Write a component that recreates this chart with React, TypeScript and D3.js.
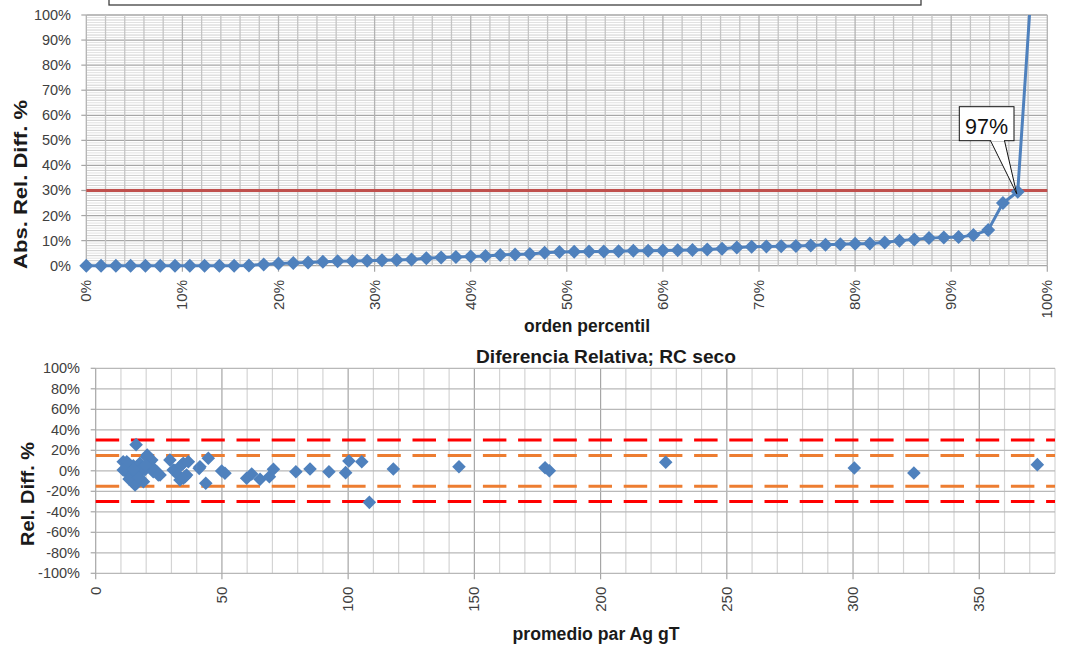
import React from "react";
import * as d3 from "d3";

// ---------- Top chart data (sorted absolute relative differences, %) ----------
const percentileValues: number[] = [
  0, 0, 0, 0, 0, 0, 0, 0, 0, 0, 0, 0.1,
  0.5, 0.9, 1.1, 1.3, 1.6, 1.8, 1.9, 2.0, 2.2, 2.3, 2.5, 3.0,
  3.3, 3.5, 3.7, 3.9, 4.3, 4.5, 4.7, 5.2, 5.5, 5.6, 5.7, 5.7,
  5.8, 6.0, 6.0, 6.1, 6.2, 6.3, 6.5, 6.8, 7.3, 7.6, 7.7, 7.8,
  7.9, 8.1, 8.4, 8.6, 8.8, 8.9, 9.3, 10.0, 10.5, 11.0, 11.2, 11.4,
  12.2, 14.2, 25.0, 29.5, 118,
];
const percentileCount = 65;
const topYTicks = [0, 10, 20, 30, 40, 50, 60, 70, 80, 90, 100];
const topXTicks = [0, 10, 20, 30, 40, 50, 60, 70, 80, 90, 100];
const limitTop = 30;
const annotationIndex = 63;
const annotationText = "97%";

// ---------- Bottom chart data (relative difference vs pair average) ----------
const scatterX: number[] = [
  10.9, 11.6, 12.3, 13.0, 13.6, 14.3, 14.9, 15.6, 16.0, 16.2, 16.2, 16.9,
  17.5, 18.9, 19.5, 20.4, 21.5, 22.2, 22.8, 24.2, 25.5, 29.4, 30.7, 31.4,
  33.4, 34.0, 34.7, 35.4, 36.0, 36.7, 41.0, 43.6, 44.6, 49.9, 51.2, 59.8,
  61.8, 65.1, 68.8, 70.4, 79.3, 84.9, 92.4, 99.0, 100.3, 105.4, 108.4, 117.9,
  143.9, 178.0, 179.7, 225.8, 300.5, 324.1, 373.0,
  20.2, 12.3, 10.9, 14.3, 15.6, 18.2, 22.8, 24.8, 32.7, 34.7, 41.3,
  13.2, 17.0, 19.8, 15.0,
];
const scatterY: number[] = [
  8.9, 0, 2.4, 7.0, -3.5, -5.7, 5.0, -13.8, 25.5, 4.0, -12.2, -2.5,
  7.3, -10.6, 1.0, 15.4, 8.9, 10.5, 2.4, -0.9, -4.1, 10.5, 0.8, 0.5,
  -9.0, 5.7, 7.3, -5.8, -4.1, 8.9, 2.4, -12.2, 12.2, -0.2, -2.4, -7.3,
  -3.1, -8.3, -5.8, 1.5, -0.9, 1.8, -0.9, -1.8, 9.6, 8.9, -30.8, 1.8,
  4.0, 3.0, 0.1, 8.3, 2.7, -2.1, 6.0,
  13.8, 8.9, 0.8, -4.0, -12.2, 2.4, -0.9, -4.1, -4.1, -7.3, 4.0,
  -8.0, -6.5, 5.5, 1.5,
];
const bottomYTicks = [-100, -80, -60, -40, -20, 0, 20, 40, 60, 80, 100];
const bottomXTicks = [0, 50, 100, 150, 200, 250, 300, 350];
const outerLimits = [30, -30];
const innerLimits = [15, -15];

const W = 1065;
const H = 648;
const BLUE = "#4F81BD";
const TICK_COLOR = "#404040";
const FONT = "'Liberation Sans', Arial, sans-serif";

function diamond(cx: number, cy: number, r: number) {
  return `M${cx},${cy - r}L${cx + r},${cy}L${cx},${cy + r}L${cx - r},${cy}Z`;
}

export default function App() {
  // Top chart scales
  const tx = d3.scaleLinear().domain([0, 100]).range([86.3, 1047.3]);
  const ty = d3.scaleLinear().domain([0, 100]).range([265.7, 15]);
  const topPts = percentileValues.map((v, i) => ({ x: (i / percentileCount) * 100, y: v }));
  const topLine = d3
    .line<{ x: number; y: number }>()
    .x((d) => tx(d.x))
    .y((d) => ty(d.y));

  // Bottom chart scales
  const bx = d3.scaleLinear().domain([0, 380]).range([95.7, 1055.0]);
  const by = d3.scaleLinear().domain([-100, 100]).range([573.3, 368.3]);

  const topMinorH = d3.range(0, 101, 1);
  const topV = d3.range(0, 101, 2);
  const botV = d3.range(0, 381, 10);
  const botH = d3.range(-100, 101, 20);

  const ann = topPts[annotationIndex];
  const annX = tx(ann.x);
  const annY = ty(ann.y);

  return (
    <svg
      width={W}
      height={H}
      style={{ position: "absolute", left: 0, top: 0, background: "#fff" }}
      fontFamily={FONT}
    >
      <rect x={0} y={0} width={W} height={H} fill="#fff" />
      <defs>
        <clipPath id="topClip">
          <rect x={tx(0) - 12} y={ty(100)} width={tx(100) - tx(0) + 24} height={ty(0) - ty(100) + 12} />
        </clipPath>
      </defs>

      {/* ---------- TOP CHART ---------- */}
      {topMinorH.map((v) => (
        <line
          key={"tmh" + v}
          x1={tx(0)}
          x2={tx(100)}
          y1={ty(v)}
          y2={ty(v)}
          stroke={v % 10 === 0 ? "#a6a6a6" : v % 2 === 0 ? "#cfcfcf" : "#e2e2e2"}
          strokeWidth={v % 10 === 0 ? 1.3 : 1}
        />
      ))}
      {topV.map((v) => (
        <line
          key={"tv" + v}
          x1={tx(v)}
          x2={tx(v)}
          y1={ty(0)}
          y2={ty(100)}
          stroke={v % 10 === 0 ? "#b3b3b3" : "#c4c4c4"}
          strokeWidth={1.3}
        />
      ))}
      {topXTicks.map((v) => (
        <line key={"txt" + v} x1={tx(v)} x2={tx(v)} y1={ty(0)} y2={ty(0) + 6} stroke="#a6a6a6" strokeWidth={1.2} />
      ))}
      {topYTicks.map((v) => (
        <line key={"tyt" + v} x1={tx(0) - 5} x2={tx(0)} y1={ty(v)} y2={ty(v)} stroke="#a6a6a6" strokeWidth={1.2} />
      ))}

      <line x1={tx(0)} x2={tx(100)} y1={ty(limitTop)} y2={ty(limitTop)} stroke="#C0504D" strokeWidth={3} />

      <g clipPath="url(#topClip)">
        <path d={topLine(topPts) || ""} fill="none" stroke={BLUE} strokeWidth={3} />
        {topPts.map((p, i) => (
          <path key={"tm" + i} d={diamond(tx(p.x), ty(p.y), 7)} fill={BLUE} />
        ))}
      </g>

      {topYTicks.map((v) => (
        <text key={"tyl" + v} x={71} y={ty(v) + 5} textAnchor="end" fontSize={14.5} fill={TICK_COLOR}>
          {v}%
        </text>
      ))}
      {topXTicks.map((v) => (
        <text
          key={"txl" + v}
          transform={`translate(${tx(v) + 5},280) rotate(-90)`}
          textAnchor="end"
          fontSize={15}
          fill={TICK_COLOR}
        >
          {v}%
        </text>
      ))}
      <text
        transform={`translate(27,184.5) rotate(-90)`}
        textAnchor="middle"
        fontSize={19}
        fontWeight="bold"
        fill="#1a1a1a"
        textLength={169}
        lengthAdjust="spacingAndGlyphs"
      >
        Abs. Rel. Diff. %
      </text>
      <text x={587} y={332} textAnchor="middle" fontSize={19} fontWeight="bold" fill="#1a1a1a" textLength={126} lengthAdjust="spacingAndGlyphs">
        orden percentil
      </text>

      {/* annotation callout */}
      <polygon points={`990.5,140.7 ${annX - 1},${annY + 2} 1004.5,140.7`} fill="#fff" stroke="#111" strokeWidth={1} />
      <rect x={959.3} y={106.7} width={54.7} height={34} fill="#fff" stroke="#111" strokeWidth={1} />
      <line x1={991.2} x2={1004} y1={140.7} y2={140.7} stroke="#fff" strokeWidth={1.5} />
      <text x={986.6} y={133.5} textAnchor="middle" fontSize={22} fill="#111" textLength={43} lengthAdjust="spacingAndGlyphs">
        {annotationText}
      </text>

      <rect x={109} y={-10} width={812} height={15} fill="#fff" stroke="#404040" strokeWidth={1.3} />

      {/* ---------- BOTTOM CHART ---------- */}
      {botV.map((v) => (
        <line
          key={"bv" + v}
          x1={bx(v)}
          x2={bx(v)}
          y1={by(-100)}
          y2={by(100)}
          stroke={v % 50 === 0 ? "#a6a6a6" : "#d4d4d4"}
          strokeWidth={1.2}
        />
      ))}
      {botH.map((v) => (
        <line key={"bh" + v} x1={bx(0)} x2={bx(380)} y1={by(v)} y2={by(v)} stroke="#b8b8b8" strokeWidth={1.2} />
      ))}
      {bottomXTicks.map((v) => (
        <line key={"bxt" + v} x1={bx(v)} x2={bx(v)} y1={by(-100)} y2={by(-100) + 6} stroke="#a6a6a6" strokeWidth={1.2} />
      ))}
      {bottomYTicks.map((v) => (
        <line key={"byt" + v} x1={bx(0) - 5} x2={bx(0)} y1={by(v)} y2={by(v)} stroke="#a6a6a6" strokeWidth={1.2} />
      ))}

      {outerLimits.map((v) => (
        <line
          key={"ol" + v}
          x1={bx(0)}
          x2={bx(380)}
          y1={by(v)}
          y2={by(v)}
          stroke="#FF0000"
          strokeWidth={3}
          strokeDasharray="23.5,11.7"
        />
      ))}
      {innerLimits.map((v) => (
        <line
          key={"il" + v}
          x1={bx(0)}
          x2={bx(380)}
          y1={by(v)}
          y2={by(v)}
          stroke="#ED7D31"
          strokeWidth={3}
          strokeDasharray="23.5,11.7"
        />
      ))}

      {scatterX.map((x, i) => (
        <path key={"sp" + i} d={diamond(bx(x), by(scatterY[i]), 6.8)} fill={BLUE} />
      ))}

      {bottomYTicks.map((v) => (
        <text key={"byl" + v} x={80} y={by(v) + 5} textAnchor="end" fontSize={14.5} fill={TICK_COLOR}>
          {v}%
        </text>
      ))}
      {bottomXTicks.map((v) => (
        <text
          key={"bxl" + v}
          transform={`translate(${bx(v) + 5},586.7) rotate(-90)`}
          textAnchor="end"
          fontSize={15}
          fill={TICK_COLOR}
        >
          {v}
        </text>
      ))}
      <text x={606} y={363} textAnchor="middle" fontSize={19} fontWeight="bold" fill="#1a1a1a" textLength={260} lengthAdjust="spacingAndGlyphs">
        Diferencia Relativa; RC seco
      </text>
      <text
        transform={`translate(34,494) rotate(-90)`}
        textAnchor="middle"
        fontSize={18}
        fontWeight="bold"
        fill="#1a1a1a"
        textLength={104}
        lengthAdjust="spacingAndGlyphs"
      >
        Rel. Diff. %
      </text>
      <text x={596} y={640} textAnchor="middle" fontSize={18} fontWeight="bold" fill="#1a1a1a" textLength={167} lengthAdjust="spacingAndGlyphs">
        promedio par Ag gT
      </text>
    </svg>
  );
}
